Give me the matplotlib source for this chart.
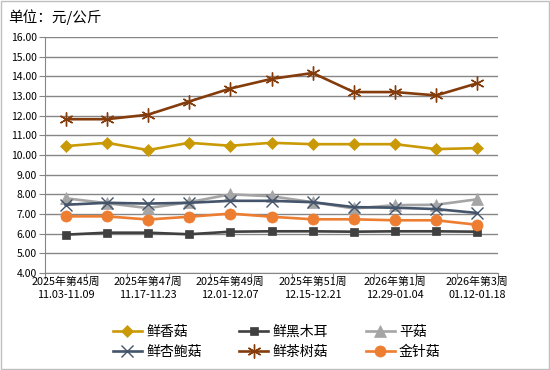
import matplotlib.pyplot as plt
from matplotlib.patches import Rectangle

plt.rcParams['font.family'] = ['Noto Sans CJK SC', 'DejaVu Sans']

# weekly price data (yuan/kg)
weeks = ['2025年第45周\n11.03-11.09', '', '2025年第47周\n11.17-11.23', '',
         '2025年第49周\n12.01-12.07', '', '2025年第51周\n12.15-12.21', '',
         '2026年第1周\n12.29-01.04', '', '2026年第3周\n01.12-01.18']
xianggu = [10.45, 10.62, 10.25, 10.62, 10.47, 10.62, 10.55, 10.55, 10.55, 10.3, 10.35]
heimuer = [5.95, 6.05, 6.05, 5.97, 6.1, 6.12, 6.12, 6.1, 6.12, 6.12, 6.1]
pinggu = [7.8, 7.55, 7.3, 7.6, 8.0, 7.9, 7.6, 7.28, 7.45, 7.47, 7.75]
xingbaogu = [7.47, 7.57, 7.53, 7.57, 7.67, 7.67, 7.6, 7.35, 7.32, 7.25, 7.05]
chashugu = [11.82, 11.82, 12.05, 12.72, 13.38, 13.87, 14.17, 13.2, 13.2, 13.03, 13.65]
jinzhengu = [6.88, 6.88, 6.72, 6.86, 7.02, 6.86, 6.73, 6.73, 6.68, 6.68, 6.45]

series = [
    ('鲜香菇', xianggu, '#C99A06', 'D', 6),
    ('鲜黑木耳', heimuer, '#404040', 's', 6),
    ('平菇', pinggu, '#A5A5A5', '^', 8),
    ('鲜杏鲍菇', xingbaogu, '#44546A', 'x', 8),
    ('鲜茶树菇', chashugu, '#843C0C', (6, 2, 0), 10),
    ('金针菇', jinzhengu, '#ED7D31', 'o', 8),
]

fig = plt.figure(figsize=(5.5, 3.7), dpi=100)
fig.patches.append(Rectangle((0.001, 0.002), 0.997, 0.996, transform=fig.transFigure,
                             fill=False, edgecolor='#BFBFBF', linewidth=1))
ax = fig.add_axes([45 / 550, 1 - 273 / 370, 453 / 550, 236 / 370])

x = list(range(len(weeks)))
handles = []
for name, vals, color, marker, ms in series:
    mew = 1.0 if marker in ('x', (6, 2, 0)) else 0.5
    h, = ax.plot(x, vals, color=color, linewidth=1.9, marker=marker, markersize=ms,
                 markeredgewidth=mew, markeredgecolor=color, label=name)
    handles.append(h)

ax.set_ylim(4, 16)
ax.set_yticks([4 + i for i in range(13)])
ax.set_yticklabels(['%.2f' % (4 + i) for i in range(13)], fontsize=7.5)
ax.grid(axis='y', color='#868686', linewidth=1)
ax.set_axisbelow(True)

ax.set_xlim(-0.5, len(weeks) - 0.5)
ax.set_xticks([i - 0.5 for i in range(len(weeks) + 1)])
ax.set_xticklabels([])
ax.set_xticks(x, minor=True)
ax.set_xticklabels(weeks, minor=True, fontsize=7.8, linespacing=1.3)
ax.tick_params(axis='x', which='minor', length=0, pad=3)
ax.tick_params(axis='x', which='major', length=4, color='#868686')
ax.tick_params(axis='y', length=4, color='#868686', pad=2)

for s in ['top', 'right']:
    ax.spines[s].set_visible(False)
for s in ['left', 'bottom']:
    ax.spines[s].set_color('#868686')

fig.text(8 / 550, 1 - 17 / 370, '单位：元/公斤', fontsize=10.5, va='center')

# row-major order for a 3-column legend
order = [0, 3, 1, 4, 2, 5]
fig.legend([handles[i] for i in order], [series[i][0] for i in order],
           loc='center', bbox_to_anchor=(0.503, 1 - 342 / 370), ncol=3, frameon=False,
           fontsize=10, handlelength=2.1, handletextpad=0.3, columnspacing=2.7,
           labelspacing=0.45)

fig.savefig('out.png', dpi=100)
